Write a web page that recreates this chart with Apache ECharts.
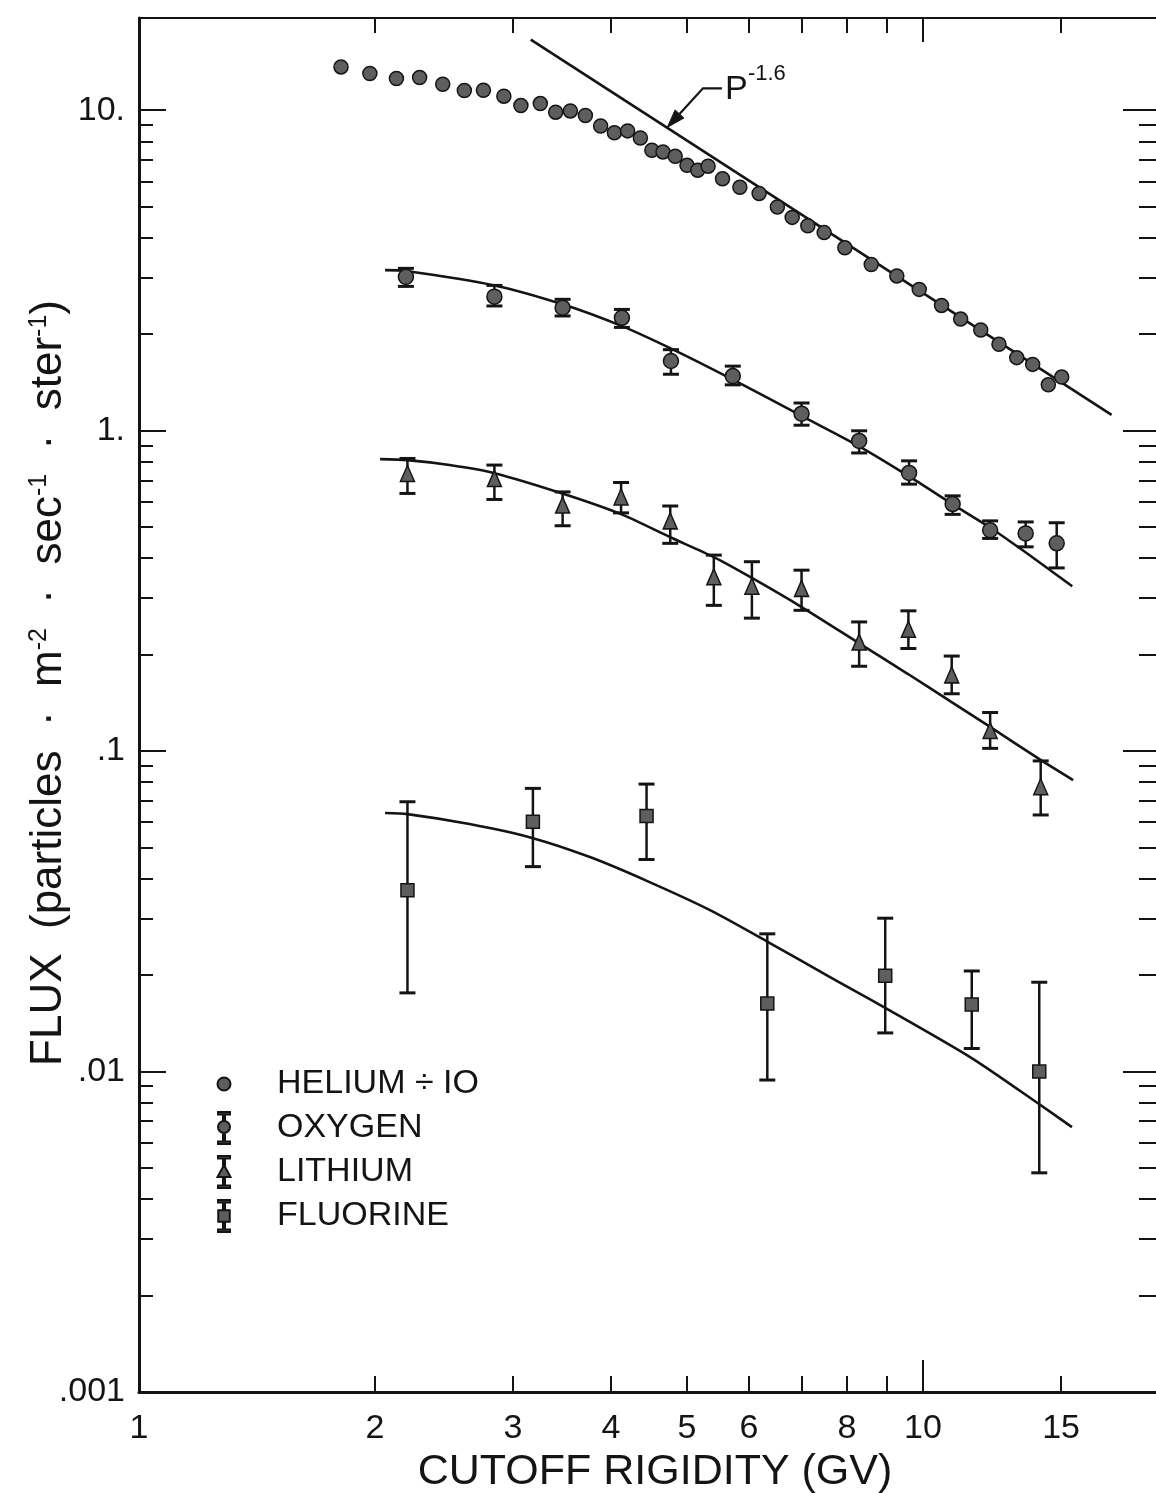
<!DOCTYPE html>
<html>
<head>
<meta charset="utf-8">
<script src="https://cdn.jsdelivr.net/npm/echarts@6/dist/echarts.min.js"></script>
<style>
html,body{margin:0;padding:0;background:#ffffff;overflow:hidden;}
#chart{width:1156px;height:1493px;}
</style>
</head>
<body>
<div id="chart"></div>
<script>
// ---------------- DATA ----------------
// Helium ÷ 10 (points only)
const heliumRigidity = [1.81,1.97,2.13,2.28,2.44,2.60,2.75,2.92,3.07,3.25,3.40,3.55,3.71,3.88,4.04,4.20,4.36,4.51,4.66,4.83,5.00,5.16,5.32,5.55,5.84,6.18,6.52,6.81,7.13,7.48,7.95,8.59,9.26,9.89,10.56,11.17,11.85,12.50,13.17,13.80,14.45,15.03];
const heliumFlux     = [13.65,13.02,12.56,12.65,12.05,11.52,11.54,11.06,10.34,10.49,9.86,9.95,9.63,8.93,8.50,8.62,8.19,7.50,7.41,7.18,6.73,6.50,6.69,6.11,5.75,5.50,4.99,4.63,4.36,4.15,3.72,3.30,3.04,2.76,2.46,2.23,2.06,1.86,1.69,1.61,1.39,1.47];

// P^-1.6 reference line (end points)
const powerLawRigidity = [3.16, 17.4];
const powerLawFlux     = [16.6, 1.12];

// Oxygen
const oxygenRigidity = [2.19,2.84,3.47,4.13,4.77,5.72,7.00,8.29,9.60,10.91,12.18,13.52,14.81];
const oxygenFlux     = [3.02,2.62,2.42,2.25,1.65,1.48,1.13,0.929,0.738,0.590,0.489,0.478,0.445];
const oxygenHigh     = [3.21,2.84,2.57,2.39,1.79,1.59,1.22,0.999,0.805,0.626,0.523,0.519,0.516];
const oxygenLow      = [2.82,2.45,2.28,2.10,1.50,1.39,1.04,0.852,0.681,0.548,0.461,0.434,0.373];
const oxygenFitRigidity = [2.06,2.19,2.84,3.47,4.13,4.78,5.73,7.01,8.28,9.59,10.9,12.2,13.5,15.5];
const oxygenFitFlux     = [3.17,3.15,2.84,2.48,2.12,1.80,1.44,1.11,0.895,0.721,0.590,0.497,0.418,0.327];

// Lithium
const lithiumRigidity = [2.20,2.84,3.47,4.12,4.76,5.41,6.05,7.00,8.29,9.58,10.88,12.18,14.13];
const lithiumFlux     = [0.735,0.709,0.586,0.621,0.523,0.350,0.327,0.322,0.219,0.240,0.173,0.116,0.0774];
const lithiumHigh     = [0.819,0.781,0.644,0.689,0.582,0.409,0.390,0.367,0.253,0.274,0.198,0.132,0.0932];
const lithiumLow      = [0.637,0.610,0.505,0.554,0.445,0.285,0.260,0.275,0.184,0.209,0.151,0.102,0.0632];
const lithiumFitRigidity = [2.03,2.20,2.49,2.84,3.46,4.12,4.76,5.41,6.05,7.01,8.29,9.57,10.89,12.18,14.14,15.54];
const lithiumFitFlux     = [0.815,0.809,0.781,0.737,0.638,0.549,0.465,0.403,0.347,0.281,0.217,0.174,0.142,0.119,0.0937,0.0812];

// Fluorine
const fluorineRigidity = [2.20,3.18,4.44,6.33,8.95,11.54,14.07];
const fluorineFlux     = [0.0368,0.0602,0.0627,0.0163,0.0199,0.0162,0.0100];
const fluorineHigh     = [0.0695,0.0765,0.0789,0.0269,0.0301,0.0206,0.0190];
const fluorineLow      = [0.0176,0.0436,0.0459,0.00941,0.0132,0.0118,0.00483];
const fluorineFitRigidity = [2.06,2.20,2.64,3.18,3.76,4.45,5.35,6.32,7.61,8.95,11.55,14.06,15.49];
const fluorineFitFlux     = [0.0641,0.0636,0.0592,0.0535,0.0467,0.0393,0.0319,0.0255,0.0197,0.0158,0.0110,0.00792,0.00671];

// Axes / ticks
const xRange = [1, 20];
const yRange = [0.001, 19.4];
const xLabelValues = [1,2,3,4,5,6,8,10,15];
const xMajorTickValues = [10];
const xMinorTickValues = [2,3,4,5,6,7,8,9,15];
const yDecadeValues = [0.001,0.01,0.1,1,10];
const yDecadeLabels = ['.001','.01','.1','1.','10.'];
const yMinorMultipliers = [2,3,4,5,6,7,8,9];

// Annotation for the power-law line (data coordinates)
const annotArrowTip = [4.72, 8.85];
const annotElbow    = [5.24, 11.7];
const annotTail     = [5.54, 11.7];

// Legend names
const seriesNames = ['HELIUM ÷ IO','OXYGEN','LITHIUM','FLUORINE'];

// ---------------- BUILD ----------------
const L = Math.log10;
const FONT = "'Liberation Sans', Arial, sans-serif";
const INK = '#141414';
const FILL = '#5e5e5e';

const yMinorTickValues = [];
yDecadeValues.forEach(d => yMinorMultipliers.forEach(k => { if (k*d <= yRange[1]) yMinorTickValues.push(k*d); }));

function pairs(xs, ys) { return xs.map((x,i) => [L(x), L(ys[i])]); }
function errs(xs, lo, hi) { return xs.map((x,i) => [L(x), L(lo[i]), L(hi[i])]); }

function xAxisDef(pos, ticks, len, showLine, lw, labels, name) {
  const ax = {
    type:'value', position:pos, min:L(xRange[0]), max:L(xRange[1]),
    axisLine:{show:showLine, onZero:false, lineStyle:{color:INK, width:lw}},
    axisTick:{show:true, inside:true, length:len, customValues:ticks.map(L), lineStyle:{color:INK, width:2}},
    axisLabel:{show:false},
    splitLine:{show:false}
  };
  if (labels) {
    ax.axisLabel = {show:true, customValues:labels.map(L), margin:20, fontSize:34, color:INK, fontFamily:FONT,
      formatter: v => String(Math.round(Math.pow(10, v)))};
  }
  if (name) {
    ax.name = name; ax.nameLocation = 'middle'; ax.nameGap = 52;
    ax.nameTextStyle = {fontSize:43, fontFamily:FONT, color:INK, padding:[0,0,0,12]};
  }
  return ax;
}
function yAxisDef(pos, ticks, len, showLine, lw, labels, name) {
  const ax = {
    type:'value', position:pos, min:L(yRange[0]), max:L(yRange[1]),
    axisLine:{show:showLine, onZero:false, lineStyle:{color:INK, width:lw}},
    axisTick:{show:true, inside:true, length:len, customValues:ticks.map(L), lineStyle:{color:INK, width:2}},
    axisLabel:{show:false},
    splitLine:{show:false}
  };
  if (labels) {
    ax.axisLabel = {show:true, customValues:yDecadeValues.map(L), margin:14, fontSize:34, color:INK, fontFamily:FONT,
      formatter: v => { const i = yDecadeValues.findIndex(d => Math.abs(L(d) - v) < 1e-6); return i >= 0 ? yDecadeLabels[i] : ''; }};
  }
  if (name) {
    ax.name = name; ax.nameLocation = 'middle'; ax.nameGap = 68; ax.nameRotate = 90;
    ax.nameMoveOverlap = false;
    ax.nameTextStyle = {fontSize:44, fontFamily:FONT, color:INK, padding:[0,0,0,44],
      rich:{ sup:{fontSize:25, fontFamily:FONT, color:INK, verticalAlign:'top', padding:[0,0,16,0]} }};
  }
  return ax;
}

function errorBarRender(params, api) {
  const x = api.value(0), lo = api.value(1), hi = api.value(2);
  const a = api.coord([x, lo]), b = api.coord([x, hi]);
  const w = 8;
  return {type:'group', children:[
    {type:'line', shape:{x1:a[0], y1:a[1], x2:b[0], y2:b[1]}, style:{stroke:INK, lineWidth:2.5}},
    {type:'line', shape:{x1:a[0]-w, y1:a[1], x2:a[0]+w, y2:a[1]}, style:{stroke:INK, lineWidth:3}},
    {type:'line', shape:{x1:b[0]-w, y1:b[1], x2:b[0]+w, y2:b[1]}, style:{stroke:INK, lineWidth:3}}
  ]};
}

function fitLine(xs, ys) {
  return {type:'line', data:pairs(xs, ys), symbol:'none', smooth:0.25,
    lineStyle:{color:INK, width:2.6}, z:2, silent:true};
}
function errSeries(xs, lo, hi) {
  return {type:'custom', data:errs(xs, lo, hi), renderItem:errorBarRender, encode:{x:0, y:[1,2]}, z:3, silent:true};
}
function pointSeries(name, xs, ys, symbol, size) {
  return {type:'scatter', name:name, data:pairs(xs, ys), symbol:symbol, symbolSize:size,
    itemStyle:{color:FILL, borderColor:INK, borderWidth:1.5, opacity:1}, z:4, silent:true};
}

const ICON_HE = 'path://M0 0M16 32M14.5 16A6.5 6.5 0 1 1 1.5 16A6.5 6.5 0 1 1 14.5 16Z';
const ICON_O  = 'path://M0 0M16 32M2 0H14V2.5H2ZM2 29.5H14V32H2ZM7 2.5H9V9H7ZM7 21H9V29.5H7ZM14 15A6 6 0 1 1 2 15A6 6 0 1 1 14 15Z';
const ICON_LI = 'path://M0 0M16 32M2 0H14V2.5H2ZM2 29.5H14V32H2ZM7 2.5H9V9H7ZM7 21H9V29.5H7ZM8 9L14.5 21L1.5 21Z';
const ICON_F  = 'path://M0 0M16 32M2 0H14V2.5H2ZM2 29.5H14V32H2ZM7 2.5H9V10.25H7ZM7 21.75H9V29.5H7ZM2.25 10.25H13.75V21.75H2.25Z';

const chart = echarts.init(document.getElementById('chart'), null, {renderer:'canvas'});
const option = {
  backgroundColor:'#ffffff',
  animation:false,
  grid:{left:139, right:-3, top:18, bottom:101, containLabel:false, outerBoundsMode:'none'},
  xAxis:[
    xAxisDef('bottom', xMajorTickValues, 32, true, 3, xLabelValues, 'CUTOFF RIGIDITY (GV)'),
    xAxisDef('bottom', xMinorTickValues, 16, false, 3, null, null),
    xAxisDef('top', xMajorTickValues, 24, true, 2, null, null),
    xAxisDef('top', xMinorTickValues, 15, false, 2, null, null)
  ],
  yAxis:[
    yAxisDef('left', yDecadeValues, 27, true, 3, true, 'FLUX  (particles  ·  m{sup|-2}  ·  sec{sup|-1}  ·  ster{sup|-1})'),
    yAxisDef('left', yMinorTickValues, 14, false, 3, false, null),
    yAxisDef('right', yDecadeValues, 36, true, 2, false, null),
    yAxisDef('right', yMinorTickValues, 20, false, 2, false, null)
  ],
  legend:{
    orient:'vertical', left:210, top:1062, padding:5, itemWidth:16, itemHeight:32, itemGap:10,
    selectedMode:false,
    data:[{name:seriesNames[0], icon:ICON_HE},{name:seriesNames[1], icon:ICON_O},
          {name:seriesNames[2], icon:ICON_LI},{name:seriesNames[3], icon:ICON_F}],
    textStyle:{fontSize:34, fontFamily:FONT, color:INK, padding:[0,0,0,40], lineHeight:30}
  },
  series:[
    {type:'line', data:pairs(powerLawRigidity, powerLawFlux), symbol:'none', lineStyle:{color:INK, width:2.6}, z:2, silent:true},
    fitLine(oxygenFitRigidity, oxygenFitFlux),
    fitLine(lithiumFitRigidity, lithiumFitFlux),
    fitLine(fluorineFitRigidity, fluorineFitFlux),
    errSeries(oxygenRigidity, oxygenLow, oxygenHigh),
    errSeries(lithiumRigidity, lithiumLow, lithiumHigh),
    errSeries(fluorineRigidity, fluorineLow, fluorineHigh),
    pointSeries(seriesNames[0], heliumRigidity, heliumFlux, 'circle', 14),
    pointSeries(seriesNames[1], oxygenRigidity, oxygenFlux, 'circle', 15),
    pointSeries(seriesNames[2], lithiumRigidity, lithiumFlux, 'triangle', [14,16]),
    pointSeries(seriesNames[3], fluorineRigidity, fluorineFlux, 'rect', 13)
  ]
};
chart.setOption(option);

// Annotation "P^-1.6" with leader arrow, anchored in data coordinates
const toPx = p => chart.convertToPixel({xAxisIndex:0, yAxisIndex:0}, [L(p[0]), L(p[1])]);
const tip = toPx(annotArrowTip), elbow = toPx(annotElbow), tail = toPx(annotTail);
let dx = tip[0]-elbow[0], dy = tip[1]-elbow[1];
const dl = Math.hypot(dx, dy); dx /= dl; dy /= dl;
const headLen = 18, headHalf = 6;
const base = [tip[0]-dx*headLen, tip[1]-dy*headLen];
chart.setOption({graphic:[
  {type:'polyline', shape:{points:[tail, elbow, base]}, style:{stroke:INK, lineWidth:2.2, fill:null}, silent:true},
  {type:'polygon', shape:{points:[tip, [base[0]-dy*headHalf, base[1]+dx*headHalf], [base[0]+dy*headHalf, base[1]-dx*headHalf]]},
    style:{fill:INK, stroke:INK, lineWidth:1}, silent:true},
  {type:'text', x:tail[0]+3, y:tail[1]+1, style:{text:'P', fontSize:34, fontFamily:FONT, fill:INK,
    align:'left', verticalAlign:'middle', textAlign:'left', textVerticalAlign:'middle'}, silent:true},
  {type:'text', x:tail[0]+26, y:tail[1]-14, style:{text:'-1.6', fontSize:22, fontFamily:FONT, fill:INK,
    align:'left', verticalAlign:'middle', textAlign:'left', textVerticalAlign:'middle'}, silent:true}
]});
</script>
</body>
</html>
